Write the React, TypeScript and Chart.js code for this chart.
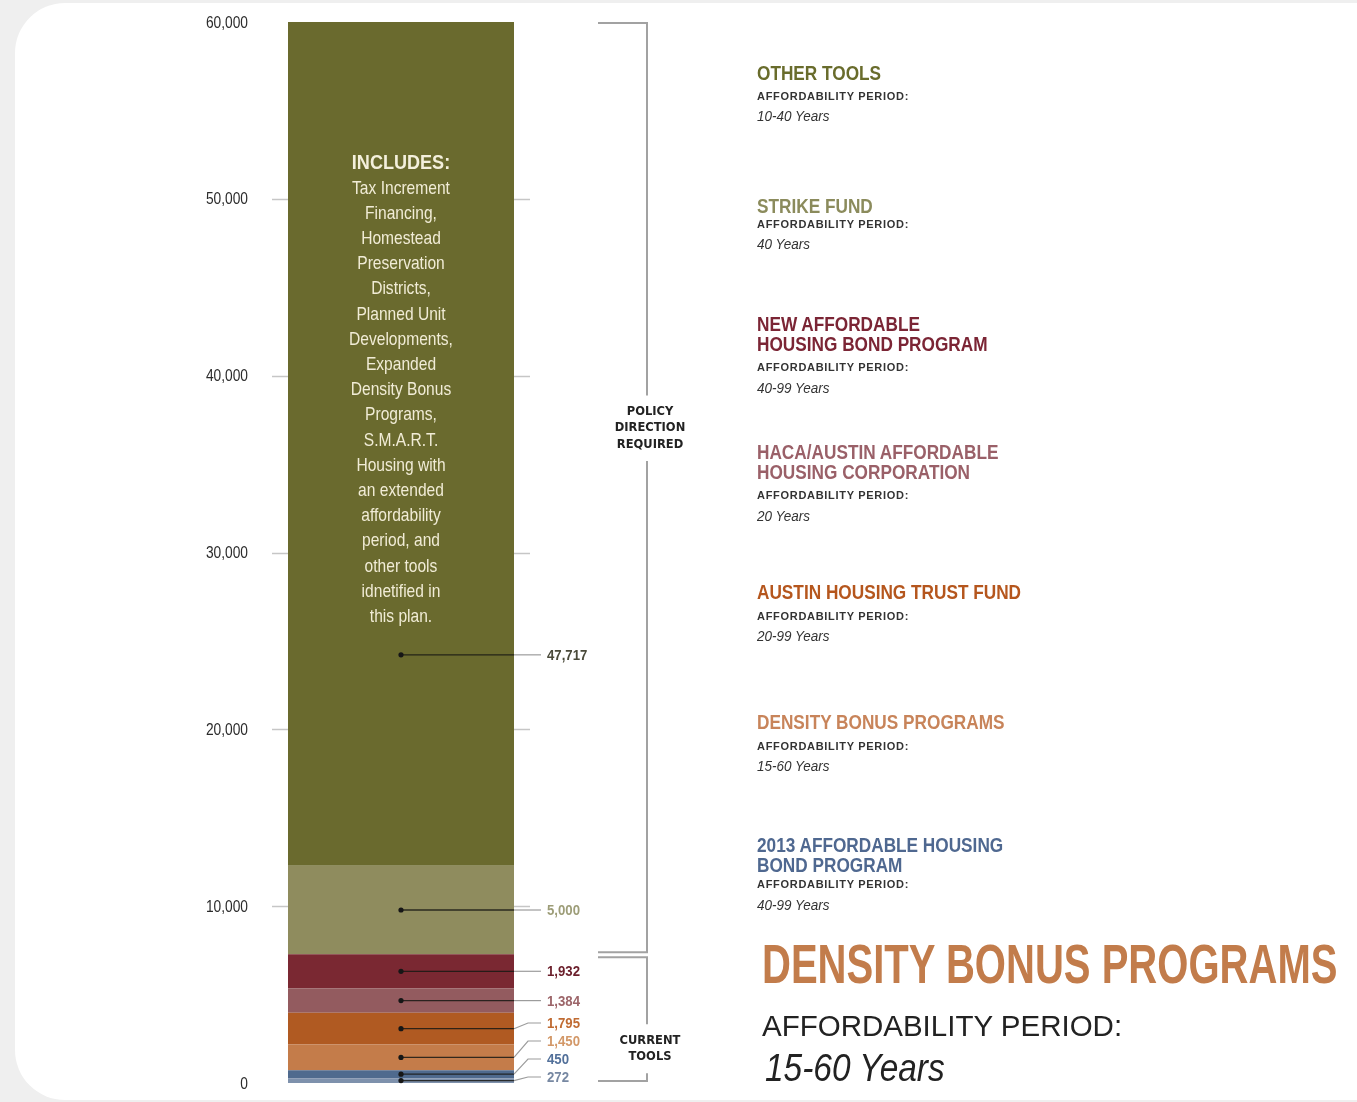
import React, { useEffect, useRef } from "react";
import { Chart, registerables } from "chart.js";

Chart.register(...registerables);

// ---------- data ----------
const yTicks = [0, 10000, 20000, 30000, 40000, 50000, 60000];
const segmentNames = [
  "2013 Affordable Housing Bond Program (a)",
  "2013 Affordable Housing Bond Program (b)",
  "Density Bonus Programs",
  "Austin Housing Trust Fund",
  "HACA/Austin Affordable Housing Corporation",
  "New Affordable Housing Bond Program",
  "Strike Fund",
  "Other Tools",
];
const segmentValues = [272, 450, 1450, 1795, 1384, 1932, 5000, 47717];
const segmentColors = ["#7e91ac", "#4f6a8e", "#c47c4a", "#b05a22", "#935b5f", "#7a2832", "#8f8c5e", "#6a6a2e"];
const valueLabelColors = ["#7788a2", "#52709a", "#d39868", "#c06b32", "#9c6569", "#6b1f2b", "#9d9d78", "#4a4a3a"];
const currentToolsCount = 6;
const policyLabel = ["POLICY", "DIRECTION", "REQUIRED"];
const currentLabel = ["CURRENT", "TOOLS"];

const includesTitle = "INCLUDES:";
const includesLines = [
  "Tax Increment", "Financing,", "Homestead", "Preservation", "Districts,", "Planned Unit",
  "Developments,", "Expanded", "Density Bonus", "Programs,", "S.M.A.R.T.", "Housing with",
  "an extended", "affordability", "period, and", "other tools", "idnetified in", "this plan.",
];

const legendTitles = [
  ["OTHER TOOLS"],
  ["STRIKE FUND"],
  ["NEW AFFORDABLE", "HOUSING BOND PROGRAM"],
  ["HACA/AUSTIN AFFORDABLE", "HOUSING CORPORATION"],
  ["AUSTIN HOUSING TRUST FUND"],
  ["DENSITY BONUS PROGRAMS"],
  ["2013 AFFORDABLE HOUSING", "BOND PROGRAM"],
];
const legendPeriods = ["10-40 Years", "40 Years", "40-99 Years", "20 Years", "20-99 Years", "15-60 Years", "40-99 Years"];
const legendColors = ["#696c2c", "#8b8b5c", "#7b2535", "#9a6068", "#b5561d", "#c8845a", "#4f6890"];
const periodHeading = "AFFORDABILITY PERIOD:";
const highlightTitle = "DENSITY BONUS PROGRAMS";
const highlightPeriod = "15-60 Years";

// ---------- layout ----------
const W = 1357;
const H = 1102;
const legendX = 757;
const legendTitleCY = [72, 205, 323, 451, 591, 721, 844];
const legendPeriodGap = [24, 19, 24, 24, 25, 25, 20];

const SANS = "'Liberation Sans', Arial, Helvetica, sans-serif";

const annotate = {
  id: "annotate",
  beforeDatasetsDraw(chart: any) {
    const { ctx, chartArea } = chart;
    const y = chart.scales.y;
    ctx.save();
    ctx.strokeStyle = "#c6c6c6";
    ctx.lineWidth = 1.6;
    yTicks.forEach((v) => {
      if (v <= y.min || v >= y.max) return;
      const py = Math.round(y.getPixelForValue(v)) + 0.5;
      ctx.beginPath();
      ctx.moveTo(chartArea.left, py);
      ctx.lineTo(chartArea.right, py);
      ctx.stroke();
    });
    ctx.fillStyle = "#2b2b2b";
    ctx.textAlign = "right";
    ctx.textBaseline = "middle";
    ctx.font = `16px ${SANS}`;
    yTicks.forEach((v) => {
      const py = y.getPixelForValue(v);
      ctx.save();
      ctx.translate(chartArea.left - 24, py + 1);
      ctx.scale(0.86, 1.05);
      ctx.fillText(v.toLocaleString("en-US"), 0, 0);
      ctx.restore();
    });
    ctx.restore();
  },
  afterDatasetsDraw(chart: any) {
    const { ctx, chartArea } = chart;
    const y = chart.scales.y;
    const yZero = y.getPixelForValue(0);
    ctx.save();
    let base = 0;
    let prevLabelY = Infinity;
    const labelX = chartArea.right + 17;
    segmentValues.forEach((v, i) => {
      const el = chart.getDatasetMeta(i).data[0];
      const isTop = i === segmentValues.length - 1;
      // top segment: anchor sits in its lower half, below the "INCLUDES" note
      const anchorVal = isTop ? base + v / 4 : base + v / 2;
      const cy = y.getPixelForValue(anchorVal);
      let ly = i === 0 ? Math.min(cy, yZero - 6) : Math.min(cy, prevLabelY - 18);
      prevLabelY = ly;
      const right = el.x + el.width / 2;
      // dark leader inside bar
      ctx.strokeStyle = "rgba(25,25,20,0.85)";
      ctx.lineWidth = 1.3;
      ctx.beginPath();
      ctx.moveTo(el.x, cy);
      ctx.lineTo(right, cy);
      ctx.stroke();
      // grey leader outside bar
      ctx.strokeStyle = "#9c9c9c";
      ctx.lineWidth = 1.2;
      ctx.beginPath();
      ctx.moveTo(right, cy);
      ctx.lineTo(right + 14, ly);
      ctx.lineTo(labelX - 6, ly);
      ctx.stroke();
      // dot
      ctx.fillStyle = "#161616";
      ctx.beginPath();
      ctx.arc(el.x, cy, 2.6, 0, Math.PI * 2);
      ctx.fill();
      // value label
      ctx.fillStyle = valueLabelColors[i];
      ctx.font = `bold 15px ${SANS}`;
      ctx.textAlign = "left";
      ctx.textBaseline = "middle";
      ctx.save();
      ctx.translate(labelX, ly + 1);
      ctx.scale(0.88, 1);
      ctx.fillText(v.toLocaleString("en-US"), 0, 0);
      ctx.restore();
      base += v;
    });

    // brackets
    const split = segmentValues.slice(0, currentToolsCount).reduce((a, b) => a + b, 0);
    const yB = y.getPixelForValue(split);
    const yTop = y.getPixelForValue(y.max) + 1;
    const bx = 647;
    const armL = 598;
    ctx.strokeStyle = "#a2a2a2";
    ctx.lineWidth = 2;
    const drawBracket = (t: number, b: number, frac: number, lines: string[]) => {
      const cy = t + frac * (b - t);
      const half = (lines.length * 16.5) / 2 + 8;
      ctx.beginPath();
      ctx.moveTo(armL, t);
      ctx.lineTo(bx, t);
      ctx.lineTo(bx, cy - half);
      ctx.moveTo(bx, cy + half);
      ctx.lineTo(bx, b);
      ctx.lineTo(armL, b);
      ctx.stroke();
      ctx.fillStyle = "#222";
      ctx.font = `bold 11.5px 'DejaVu Sans', ${SANS}`;
      ctx.textAlign = "center";
      ctx.textBaseline = "middle";
      lines.forEach((s, k) => {
        ctx.fillText(s, bx + 3, cy + (k - (lines.length - 1) / 2) * 16.5);
      });
    };
    drawBracket(yTop, yB - 2, 0.436, policyLabel);
    drawBracket(yB + 3, yZero - 2, 0.74, currentLabel);
    ctx.restore();
  },
};

type TP = {
  x: number;
  cy: number;
  size: number;
  color: string;
  bold?: boolean;
  italic?: boolean;
  sx?: number;
  center?: boolean;
  ls?: number;
  children: React.ReactNode;
};

function T({ x, cy, size, color, bold, italic, sx = 1, center, ls = 0, children }: TP) {
  const style: React.CSSProperties = {
    position: "absolute",
    top: cy - 0.49 * size,
    fontSize: size,
    lineHeight: `${size}px`,
    fontFamily: SANS,
    fontWeight: bold ? 700 : 400,
    fontStyle: italic ? "italic" : "normal",
    color,
    whiteSpace: "nowrap",
    letterSpacing: ls,
    transform: `scaleX(${sx})`,
    transformOrigin: center ? "center" : "left",
    pointerEvents: "none",
  };
  if (center) {
    style.left = x - 200;
    style.width = 400;
    style.textAlign = "center";
  } else {
    style.left = x;
  }
  return <div style={style}>{children}</div>;
}

export default function App() {
  const ref = useRef<HTMLCanvasElement>(null);

  useEffect(() => {
    const chart = new Chart(ref.current as HTMLCanvasElement, {
      type: "bar",
      data: {
        labels: [""],
        datasets: segmentValues.map((v, i) => ({
          label: segmentNames[i],
          data: [v],
          backgroundColor: segmentColors[i],
          borderWidth: 0,
          categoryPercentage: 1,
          barPercentage: 226 / 258,
        })),
      },
      options: {
        responsive: false,
        animation: false,
        layout: { padding: { left: 0, right: 827, top: 22, bottom: 19 } },
        plugins: { legend: { display: false }, tooltip: { enabled: false } },
        scales: {
          x: { stacked: true, display: false },
          y: {
            stacked: true,
            min: 0,
            max: 60000,
            ticks: { stepSize: 10000, display: false },
            grid: { display: false },
            border: { display: false },
            afterFit: (s: any) => {
              s.width = 272;
            },
          },
        },
      } as any,
      plugins: [annotate],
    });
    return () => chart.destroy();
  }, []);

  const legendEls: React.ReactNode[] = [];
  legendTitles.forEach((lines, i) => {
    lines.forEach((s, k) => {
      legendEls.push(
        <T key={`t${i}-${k}`} x={legendX} cy={legendTitleCY[i] + k * 20.5} size={21} color={legendColors[i]} bold sx={0.82}>
          {s}
        </T>
      );
    });
    const apY = legendTitleCY[i] + (lines.length - 1) * 20.5 + legendPeriodGap[i];
    legendEls.push(
      <T key={`a${i}`} x={legendX} cy={apY} size={11} color="#333" bold ls={0.7}>
        {periodHeading}
      </T>
    );
    legendEls.push(
      <T key={`p${i}`} x={legendX} cy={apY + 19.5} size={15} color="#333" italic sx={0.9}>
        {legendPeriods[i]}
      </T>
    );
  });

  return (
    <div style={{ position: "absolute", left: 0, top: 0, width: W, height: H, background: "#efefef", overflow: "hidden" }}>
      <div style={{ position: "absolute", left: 15, top: 3, width: 1420, height: 1097, background: "#ffffff", borderRadius: 50 }} />
      <canvas ref={ref} width={W} height={H} style={{ position: "absolute", left: 0, top: 0, display: "block" }} />
      <T x={401} cy={161} size={21} color="#f4f0dc" bold sx={0.86} center>
        {includesTitle}
      </T>
      {includesLines.map((s, k) => (
        <T key={`inc${k}`} x={401} cy={187 + k * 25.2} size={19} color="#f1ecd6" sx={0.82} center>
          {s}
        </T>
      ))}
      {legendEls}
      <T x={762} cy={963} size={56} color="#c27c4b" bold sx={0.715}>
        {highlightTitle}
      </T>
      <T x={762} cy={1025} size={29.5} color="#222">
        {periodHeading}
      </T>
      <T x={765} cy={1068} size={38} color="#222" italic sx={0.88}>
        {highlightPeriod}
      </T>
    </div>
  );
}
